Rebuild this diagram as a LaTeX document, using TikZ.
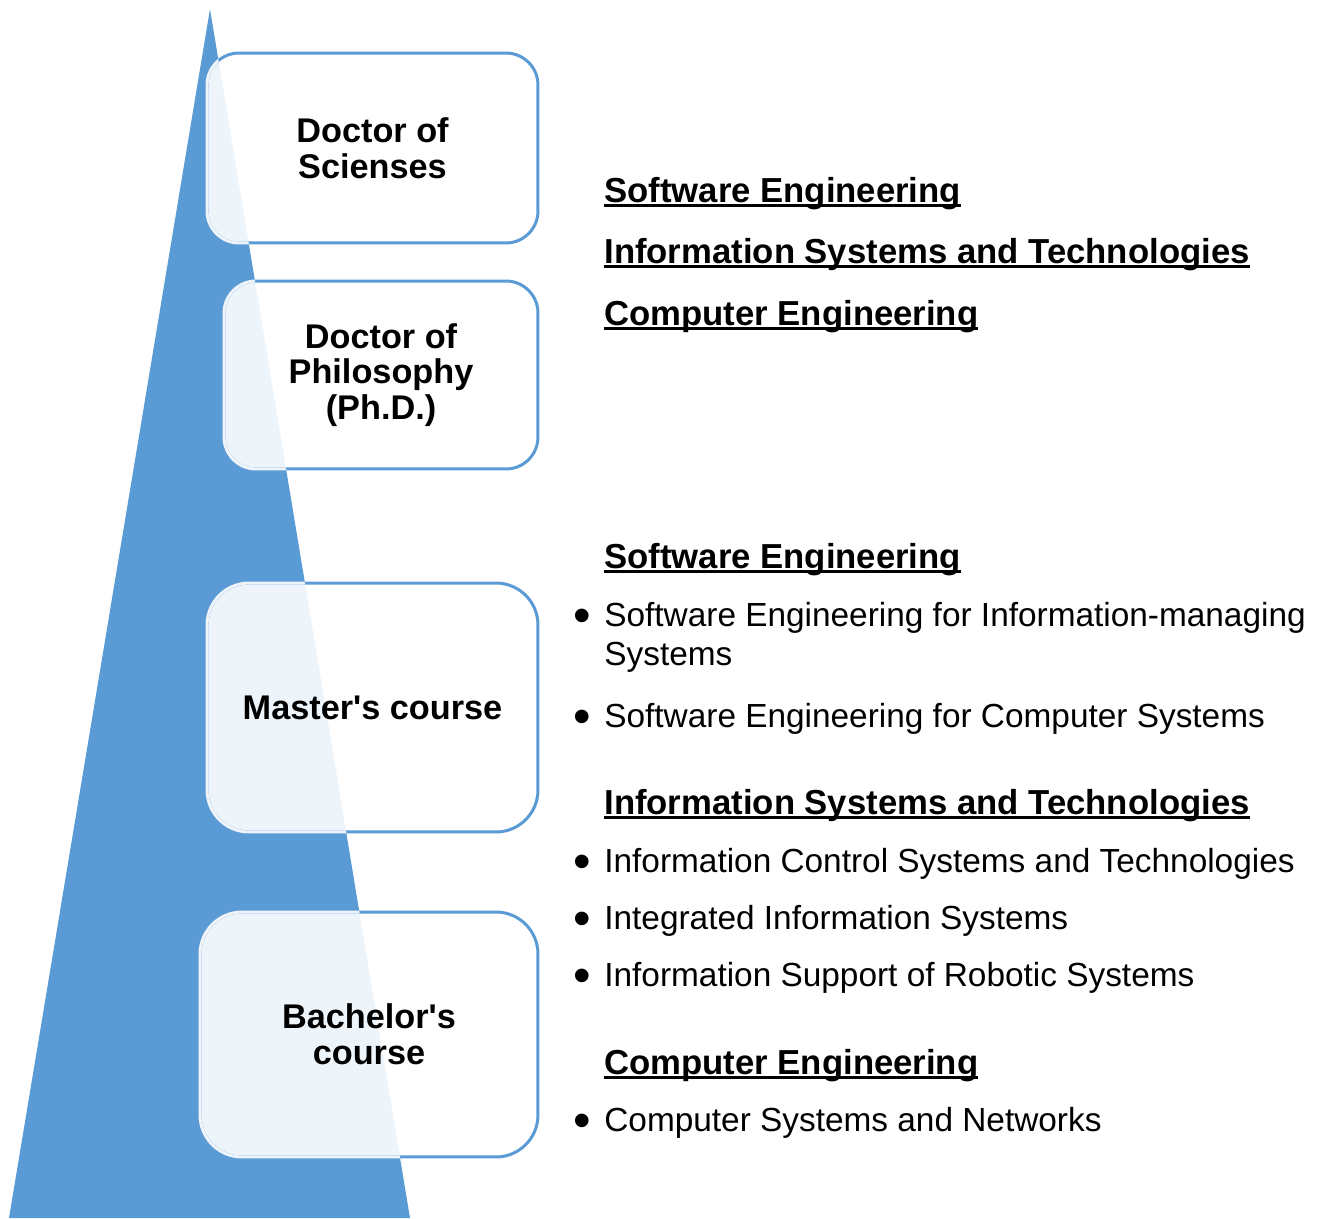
\documentclass[tikz,border=0pt]{standalone}
\usepackage{fontspec}
\setmainfont{Liberation Sans}
\definecolor{triblue}{HTML}{5B9BD5}
\definecolor{boxblue}{HTML}{5B9BD5}
\definecolor{paleblue}{HTML}{EEF4FA}
\newcommand\ulhead[1]{\setbox0\hbox{#1}\rlap{\rule[-0.09cm]{\wd0}{0.06cm}}\box0}
\newcommand\itembul{\llap{\raisebox{-0.13cm}{\scalebox{1.5}{\textbullet}}\hspace{0.264cm}}}
\begin{document}
\begin{tikzpicture}[x=0.02cm,y=-0.02cm,
  level node/.style={draw=boxblue,line width=0.06cm,fill=white,fill opacity=0.9,text opacity=1,outer sep=0pt,inner sep=0pt,align=center,font=\fontsize{19.5}{20.4}\selectfont\bfseries},
  head node/.style={anchor=base west,inner sep=0pt,font=\fontsize{19.75}{23}\selectfont\bfseries},
  item node/.style={anchor=base west,inner sep=0pt,align=left,font=\fontsize{19}{22.2}\selectfont}]
  \useasboundingbox (0,0) rectangle (1319,1218);
  \fill[triblue] (210,9) coordinate (apex) -- (9,1218) -- (410,1218) -- cycle;
  % levels
  \node[level node, rounded corners=0.64cm, minimum width=6.62cm, minimum height=3.8cm] at (372.5,148) (doctor) {Doctor of\\Scienses};
  \node[level node, rounded corners=0.64cm, minimum width=6.28cm, minimum height=3.76cm] at (381,375) (phd) {Doctor of\\Philosophy\\(Ph.D.)};
  \node[level node, rounded corners=0.84cm, minimum width=6.62cm, minimum height=4.98cm] at (372.5,707.5) (master) {Master\textquotesingle s course};
  \node[level node, rounded corners=0.84cm, minimum width=6.76cm, minimum height=4.9cm] at (369,1034.5) (bachelor) {Bachelor\textquotesingle s\\course};
  \begin{scope}
    \clip (apex) -- (9,1218) -- (410,1218) -- cycle;
    \foreach \lvl/\rad in {doctor/0.64,phd/0.64,master/0.84,bachelor/0.84}
      \draw[paleblue, line width=0.06cm, rounded corners=\rad cm] (\lvl.south west) rectangle (\lvl.north east);
  \end{scope}
  % doctoral specialities
  \node[head node] at (604,202) (drse) {\ulhead{Software Engineering}};
  \node[head node] at (604,263) (dris) {\ulhead{Information Systems and Technologies}};
  \node[head node] at (604,325) (drce) {\ulhead{Computer Engineering}};
  % master and bachelor programmes
  \node[head node] at (604,568) (se) {\ulhead{Software Engineering}};
  \node[item node] at (604,665) (se1) {\itembul Software Engineering for Information-managing\\Systems};
  \node[item node] at (604,727) (se2) {\itembul Software Engineering for Computer Systems};
  \node[head node] at (604,814) (is) {\ulhead{Information Systems and Technologies}};
  \node[item node] at (604,872) (is1) {\itembul Information Control Systems and Technologies};
  \node[item node] at (604,929) (is2) {\itembul Integrated Information Systems};
  \node[item node] at (604,986) (is3) {\itembul Information Support of Robotic Systems};
  \node[head node] at (604,1074) (ce) {\ulhead{Computer Engineering}};
  \node[item node] at (604,1131) (ce1) {\itembul Computer Systems and Networks};
\end{tikzpicture}
\end{document}
